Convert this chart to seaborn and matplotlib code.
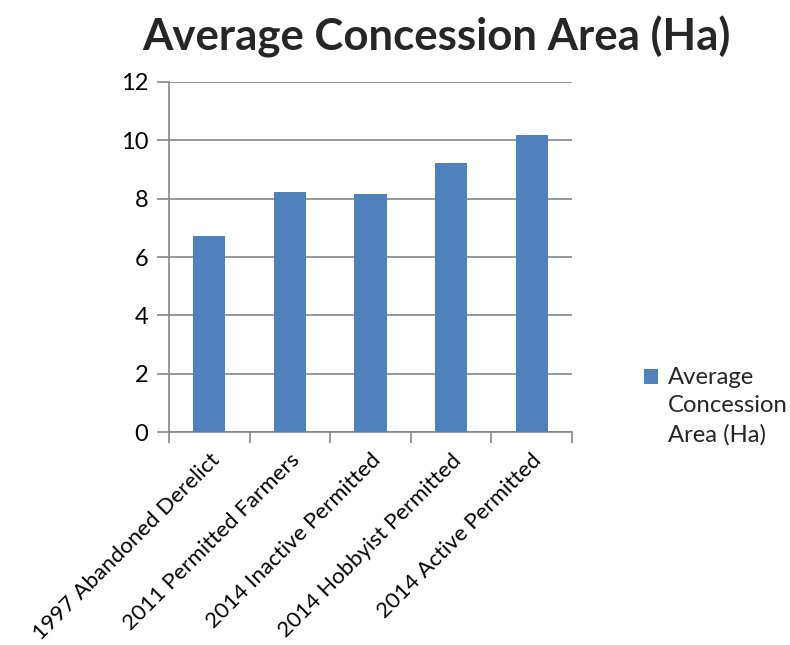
import pandas as pd
import seaborn as sns
import matplotlib.pyplot as plt
from matplotlib.ticker import FixedLocator

# data
groups = [
    "1997 Abandoned Derelict",
    "2011 Permitted Farmers",
    "2014 Inactive Permitted",
    "2014 Hobbyist Permitted",
    "2014 Active Permitted",
]
avg_area = [6.72, 8.22, 8.16, 9.22, 10.17]
series_name = "Average\nConcession\nArea (Ha)"
y_ticks = [0, 2, 4, 6, 8, 10, 12]

df = pd.DataFrame({"group": groups, "area": avg_area})

sns.set_theme(style="white")
plt.rcParams["font.family"] = ["Lato", "DejaVu Sans"]

fig = plt.figure(figsize=(7.9, 6.45), dpi=100)
ax = fig.add_axes([0.214, 0.330, 0.510, 0.543])

grey = "#868686"
sns.barplot(data=df, x="group", y="area", color="#4F81BD", width=0.4,
            saturation=1, linewidth=0, label=series_name, ax=ax, zorder=3)

ax.set_ylim(0, 12)
ax.set_xlim(-0.5, len(groups) - 0.5)
ax.set_yticks(y_ticks)
ax.yaxis.grid(True, color=grey, linewidth=1.2, zorder=0)
ax.set_axisbelow(True)

for side in ["top", "right"]:
    ax.spines[side].set_visible(False)
for side in ["left", "bottom"]:
    ax.spines[side].set_color(grey)
    ax.spines[side].set_linewidth(1.2)

ax.tick_params(axis="y", which="major", length=9, color=grey, width=1.2,
               labelsize=17, labelcolor="black", left=True, pad=6)
ax.xaxis.set_minor_locator(FixedLocator([i - 0.5 for i in range(len(groups) + 1)]))
ax.tick_params(axis="x", which="minor", length=8, color=grey, width=1.2, bottom=True)
ax.tick_params(axis="x", which="major", length=0, labelsize=16, labelcolor="black", pad=13)
plt.setp(ax.get_xticklabels(), rotation=45, ha="right", rotation_mode="anchor")

ax.set_xlabel("")
ax.set_ylabel("")

fig.suptitle("Average Concession Area (Ha)", fontsize=31.5, fontweight="bold",
             x=0.553, y=0.975)

leg = ax.legend(loc="upper left", bbox_to_anchor=(1.18, 0.185), frameon=False,
                fontsize=17.2, handlelength=0.55, handleheight=0.55, handletextpad=0.45,
                borderaxespad=0, borderpad=0)
for t in leg.get_texts():
    t.set_linespacing(1.42)
# put the colour square next to the first line of the label, as in the original
handle = leg.legend_handles[0]
handle.set_y(handle.get_y() + 21.5)

fig.savefig("out.png", dpi=100)
